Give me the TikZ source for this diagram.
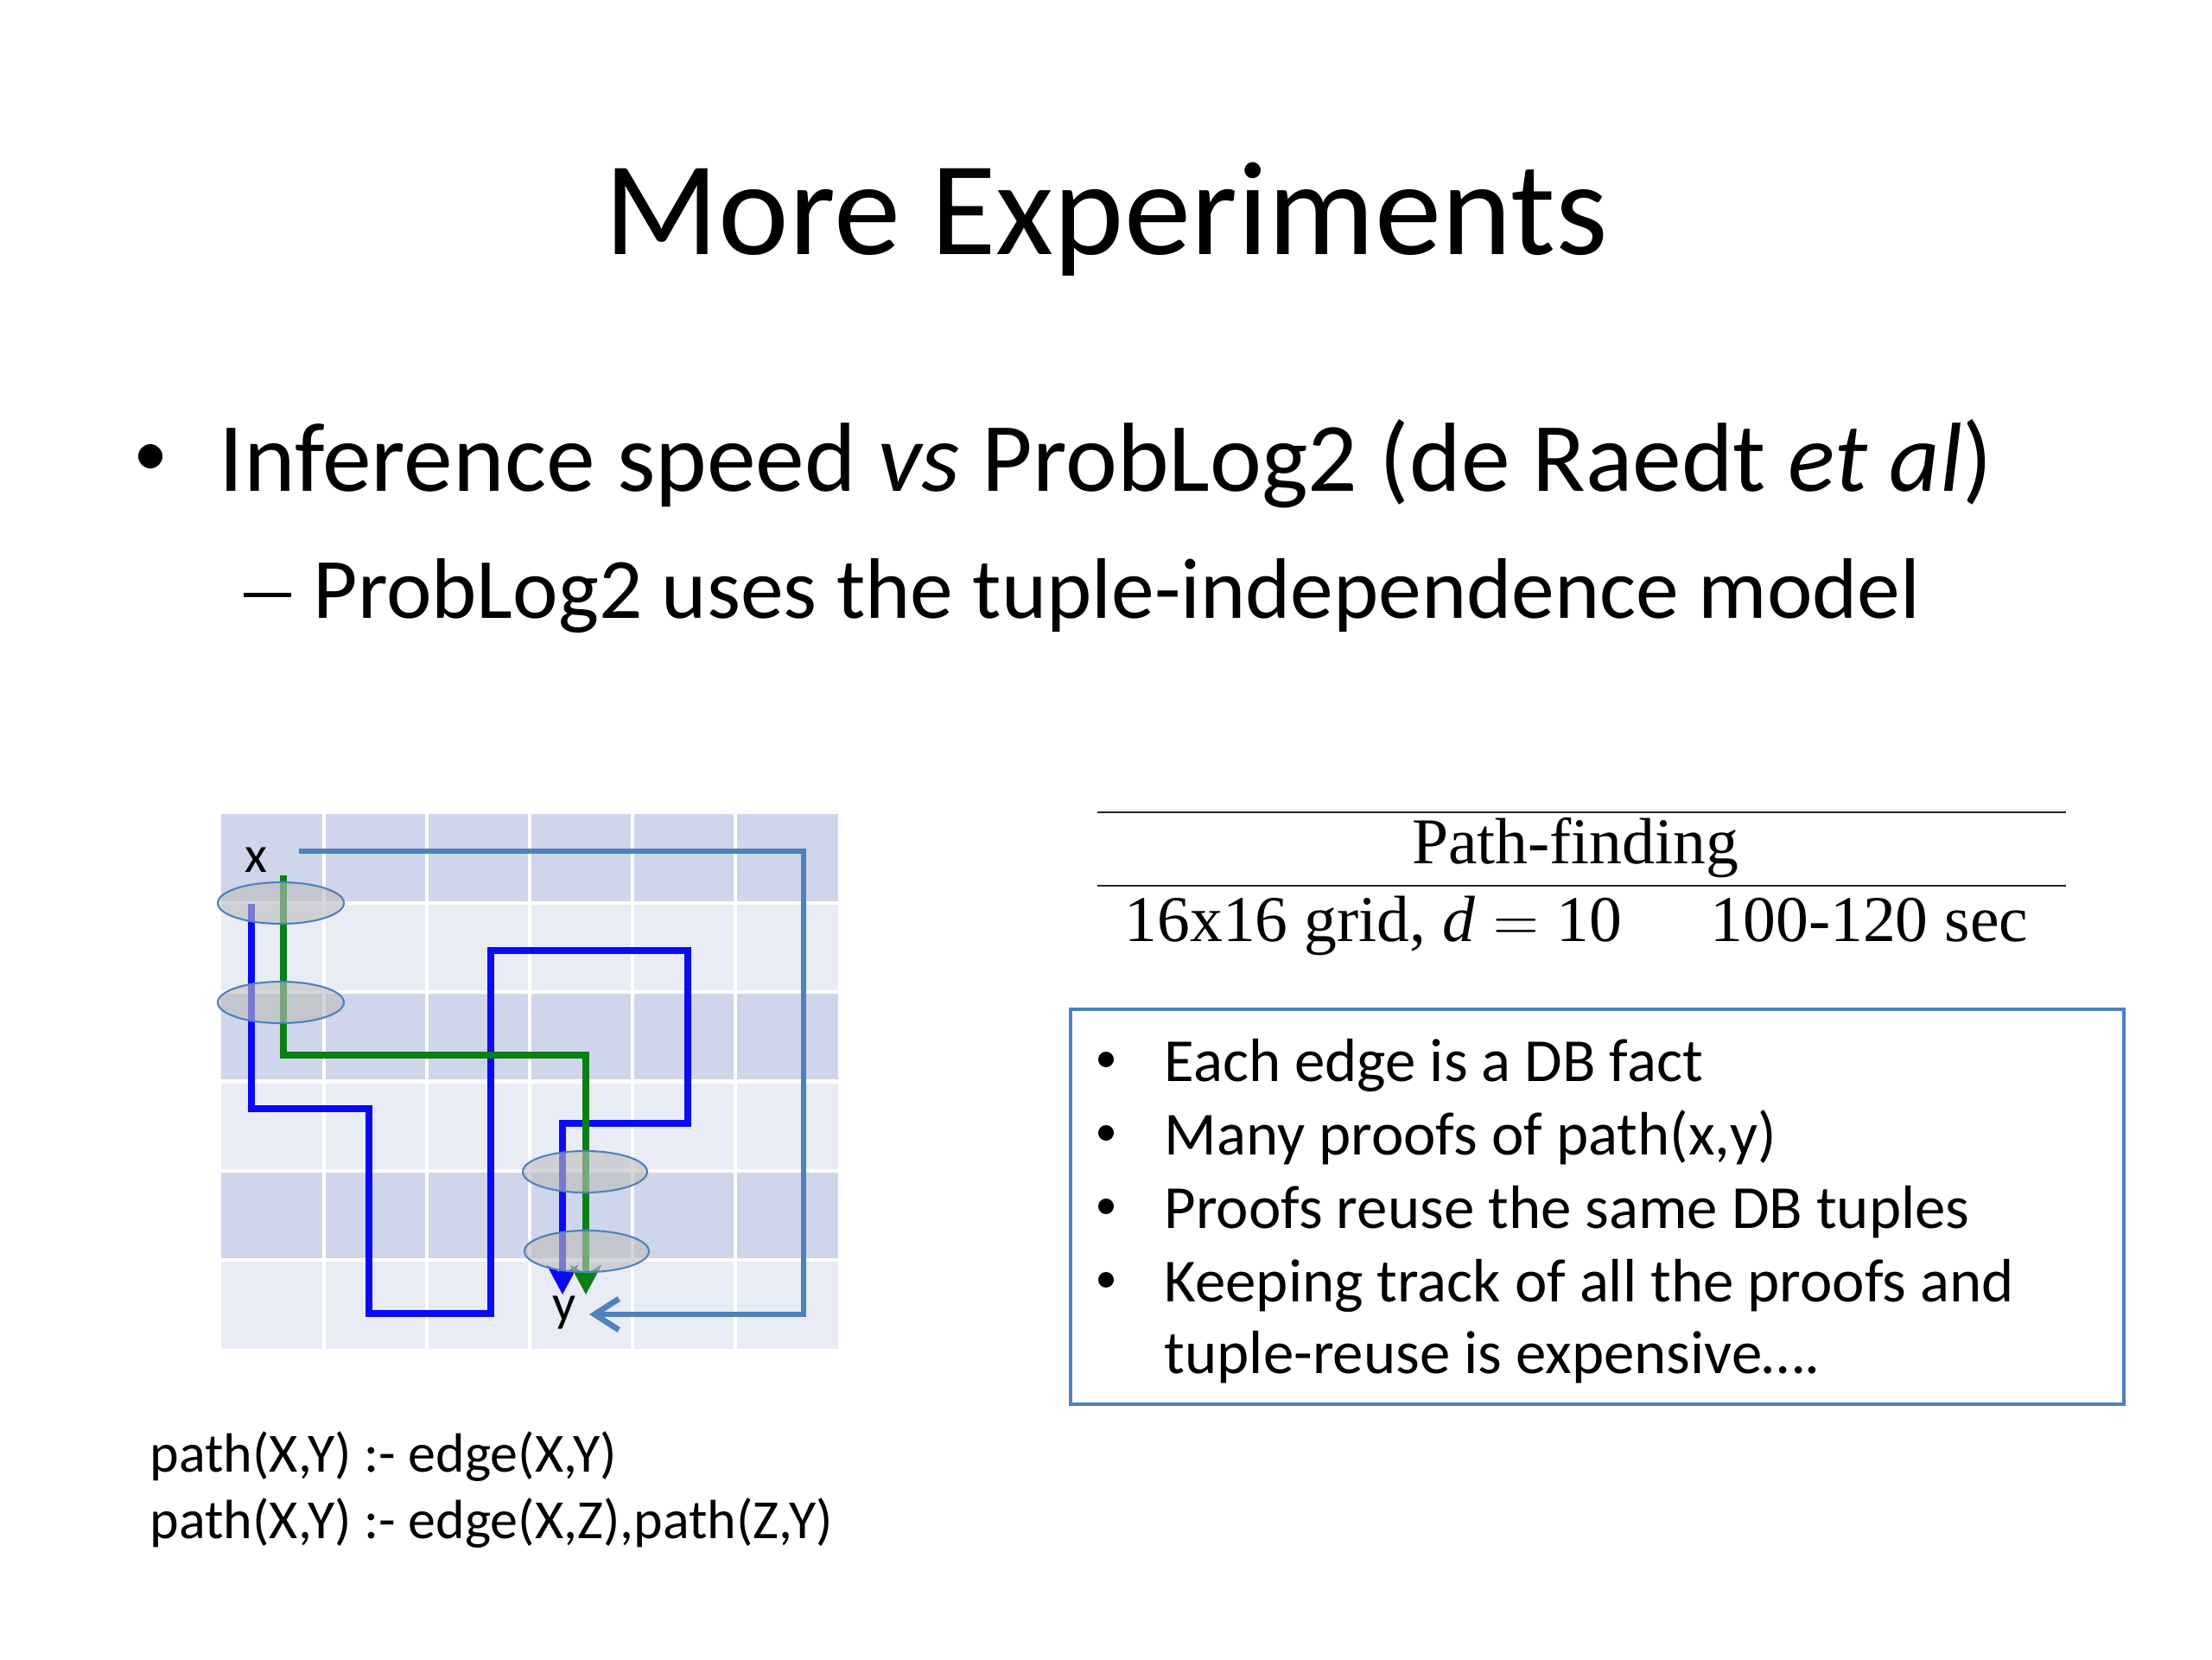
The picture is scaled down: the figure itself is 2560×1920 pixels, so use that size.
\documentclass[tikz,border=0pt]{standalone}
\usepackage{fontspec}
\setmainfont{Carlito}
\newfontfamily\timesf{Liberation Serif}
\usetikzlibrary{arrows.meta}
\definecolor{rowdark}{HTML}{CFD5EA}
\definecolor{rowlight}{HTML}{E9EBF5}
\definecolor{steel}{HTML}{4F81BD}
\definecolor{pblue}{HTML}{0A0AF5}
\definecolor{pgreen}{HTML}{0A7F14}
\definecolor{ovgray}{HTML}{BEBEBE}
\begin{document}
\begin{tikzpicture}[x=0.01cm,y=-0.01cm,
  txt/.style={inner sep=0pt,anchor=base west},
  titlefont/.style={font=\fontsize{44}{53}\selectfont},
  lvlone/.style={txt,font=\fontsize{32.3}{38}\selectfont},
  lvltwo/.style={txt,font=\fontsize{28.3}{34}\selectfont},
  boxtxt/.style={txt,font=\fontsize{20.15}{24}\selectfont},
  codetxt/.style={txt,font=\fontsize{18.2}{22}\selectfont},
  tabtxt/.style={inner sep=0pt,anchor=base,font=\timesf\fontsize{21.5}{26}\selectfont},
  lbl/.style={inner sep=0pt,font=\fontsize{17}{20}\selectfont},
  dot/.style={fill=black,draw=none},
  gridline/.style={white,line width=1.2pt},
  steelpath/.style={steel,line width=1.9pt,line join=miter},
  bluepath/.style={pblue,line width=2.1pt,line join=miter},
  greenpath/.style={pgreen,line width=2.1pt,line join=miter},
  headtip/.style={-{Stealth[length=3.4mm,width=3.6mm,inset=1mm]}},
  ovl/.style={fill=ovgray,fill opacity=0.62,draw=steel,draw opacity=1,line width=0.6pt},
  rule/.style={black!85,line width=0.7pt},
  bluebox/.style={draw=steel,line width=1.2pt}
]
\useasboundingbox (0,0) rectangle (2560,1920);
\fill[white] (0,0) rectangle (2560,1920);

% title and bullets
\node[titlefont,inner sep=0pt,anchor=base] (title) at (1280,294) {More Experiments};
\fill[dot] (174,528) circle [radius=14];
\node[lvlone] (b1) at (253,568) {Inference speed \textit{vs} ProbLog2 (de Raedt \textit{et al})};
\fill[dot] (282,685.5) rectangle (337,690.5);
\node[lvltwo] (b2) at (362,715) {ProbLog2 uses the tuple-independence model};

% grid
\fill[rowdark]  (256,942)    rectangle (970,1045.2);
\fill[rowlight] (256,1045.2) rectangle (970,1148.3);
\fill[rowdark]  (256,1148.3) rectangle (970,1251.5);
\fill[rowlight] (256,1251.5) rectangle (970,1354.7);
\fill[rowdark]  (256,1354.7) rectangle (970,1457.8);
\fill[rowlight] (256,1457.8) rectangle (970,1561);
\foreach \gx in {375,494,613,732,851} \draw[gridline] (\gx,942) -- (\gx,1561);
\foreach \gy in {1045.2,1148.3,1251.5,1354.7,1457.8} \draw[gridline] (256,\gy) -- (970,\gy);

% labels
\node[lbl] (xlab) at (296,995) {x};
\node[lbl] (ylab) at (653,1519) {y};

% paths
\coordinate (s0) at (346,985);
\coordinate (s1) at (682,1521);
\draw[steelpath,-{Straight Barb[length=2.8mm,width=3.6mm,line width=1.9pt]}] (s0) -- (930,985) -- (930,1521) -- (s1);
\coordinate (bl0) at (291,1046);
\coordinate (bl1) at (651,1498);
\draw[bluepath,headtip] (bl0) -- (291,1283) -- (427,1283) -- (427,1520) -- (568,1520) -- (568,1100) -- (796,1100) -- (796,1300) -- (651,1300) -- (bl1);
\coordinate (g0) at (328,1013);
\coordinate (g1) at (678,1498);
\draw[greenpath,headtip] (g0) -- (328,1221) -- (678,1221) -- (g1);

% shared tuples
\draw[ovl] (325,1045) ellipse [x radius=73, y radius=24];
\draw[ovl] (325,1160) ellipse [x radius=73, y radius=24];
\draw[ovl] (677,1356) ellipse [x radius=72, y radius=24];
\draw[ovl] (679,1448) ellipse [x radius=72, y radius=24];

% table
\coordinate (r1a) at (1270,940);
\coordinate (r1b) at (2391,940);
\coordinate (r2a) at (1270,1025);
\coordinate (r2b) at (2391,1025);
\draw[rule] (r1a) -- (r1b);
\draw[rule] (r2a) -- (r2b);
\node[tabtxt] (thead) at (1823,999) {Path-finding};
\node[tabtxt,anchor=base west] (tcell1) at (1301,1089) {16x16 grid, \textit{d}\;$=$\;10};
\node[tabtxt,anchor=base west] (tcell2) at (1979,1089) {100-120 sec};

% box
\draw[bluebox] (1239,1168) rectangle (2458,1625);
\foreach \yy/\tt in {1251/{Each edge is a DB fact},1336/{Many proofs of path(x,y)},1421/{Proofs reuse the same DB tuples},1506/{Keeping track of all the proofs and}} {
  \fill[dot] (1280,\yy-25) circle [radius=9];
  \node[boxtxt] at (1347,\yy) {\tt};
}
\node[boxtxt] (boxlast) at (1347,1589) {tuple-reuse is expensive….};

% code
\node[codetxt] (code1) at (173,1703) {path(X,Y) :- edge(X,Y)};
\node[codetxt] (code2) at (173,1780) {path(X,Y) :- edge(X,Z),path(Z,Y)};
\end{tikzpicture}
\end{document}
